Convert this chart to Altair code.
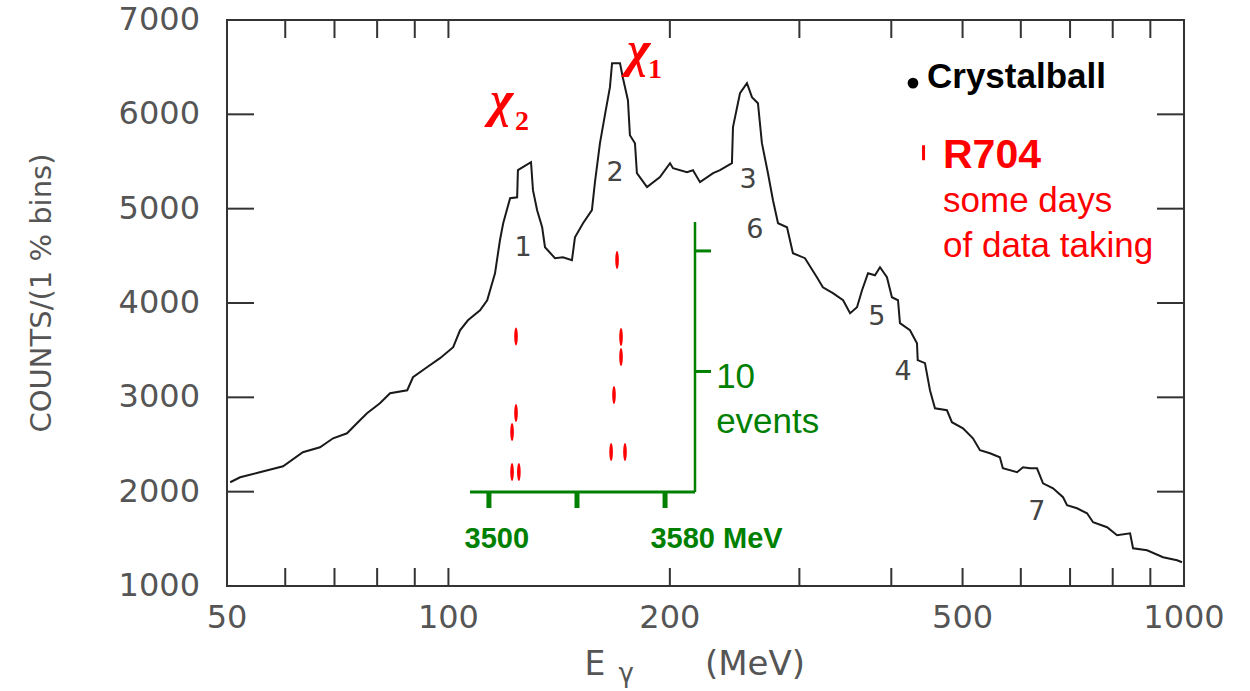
import altair as alt
import pandas as pd

# ---------------- main spectrum (Crystal Ball inclusive photon spectrum) ----------------
energy = [50.5, 52.1, 55.4, 59.6, 63.4, 66.9, 69.7, 72.8, 75.1, 77.5, 80.7, 83.3, 87.9, 89.5,
          93.5, 97.4, 101.5, 103.7, 106.3, 110.4, 112.9, 115.7, 117.5, 118.7, 121.3, 124.0,
          124.3, 129.5, 130.3, 132.0, 134.1, 135.3, 139.6, 143.1, 147.2, 148.6, 152.4, 156.7,
          158.2, 160.7, 163.2, 165.8, 166.9, 171.1, 172.7, 175.4, 176.5, 179.3, 180.4, 186.2,
          193.9, 200.1, 202.0, 211.0, 215.0, 219.8, 229.0, 234.0, 242.9, 243.7, 249.1, 254.6,
          258.6, 263.5, 266.8, 271.9, 276.2, 280.6, 288.6, 294.0, 305.3, 316.9, 322.9, 333.2,
          344.0, 351.6, 359.3, 365.0, 371.9, 380.1, 386.1, 394.6, 400.8, 408.5, 411.0, 424.1,
          433.5, 434.5, 444.5, 451.5, 458.6, 476.1, 483.6, 500.6, 516.5, 528.0, 544.8, 561.9,
          567.2, 593.0, 604.2, 617.5, 631.2, 643.2, 663.7, 684.8, 693.4, 715.4, 738.2, 752.3,
          786.0, 811.0, 844.7, 852.6, 890.8, 936.5, 978.6, 993.9]
counts = [2100, 2153, 2206, 2269, 2418, 2471, 2566, 2619, 2725, 2831, 2937, 3043, 3075, 3213,
          3319, 3415, 3531, 3711, 3817, 3923, 4029, 4315, 4665, 4845, 5111, 5121,
          5408, 5493, 5196, 4984, 4803, 4591, 4475, 4485, 4454, 4697, 4845, 4984,
          5281, 5694, 5991, 6288, 6542, 6542, 6383, 6150, 5779, 5694, 5376, 5228,
          5334, 5482, 5429, 5387, 5408, 5281, 5376, 5408, 5482, 5864, 6224, 6330,
          6182, 6118, 5694, 5376, 5090, 4845, 4803, 4527, 4475, 4273, 4167, 4104,
          4029, 3892, 3955, 4135, 4315, 4294, 4379, 4273, 4061, 4029, 3786, 3712,
          3574, 3394, 3362, 3076, 2884, 2863, 2736, 2672, 2566, 2439, 2407, 2365,
          2248, 2206, 2259, 2248, 2248, 2089, 2036, 1941, 1856, 1824, 1771, 1676,
          1623, 1538, 1559, 1400, 1379, 1305, 1273, 1252]

x_major = [50, 100, 200, 500, 1000]
x_minor = [60, 70, 80, 90, 300, 400, 600, 700, 800, 900]
y_ticks = [1000, 2000, 3000, 4000, 5000, 6000, 7000]
y_title = "COUNTS/(1 % bins)"

# numbered lines
peak_labels = ["1", "2", "3", "4", "5", "6", "7"]
peak_E = [126.3, 168.5, 255.4, 414.9, 382.4, 261.0, 631.0]
peak_C = [4581, 5375, 5302, 3266, 3849, 4772, 1781]

# chi_c labels
chi_text = ["χ", "χ"]
chi_E = [113.9, 174.9]
chi_C = [5981, 6511]
chi_sub = ["2", "1"]
chi_sub_E = [123.2, 186.8]
chi_sub_C = [5832, 6384]

# legend
legend_dot_E = [428.1]
legend_dot_C = [6331]
legend_bar_E = [442.5]
legend_bar_C = [5593]
legend_black = ["Crystalball"]
legend_black_E = [447.3]
legend_black_C = [6278]
legend_red_bold = ["R704"]
legend_red_bold_E = [470.3]
legend_red_bold_C = [5429]
legend_red = ["some days", "of data taking"]
legend_red_E = [470.3, 470.3]
legend_red_C = [4962, 4485]

# x-axis title pieces
xtitle_text = ["E", "γ", "(MeV)"]
xtitle_E = [158.2, 174.5, 261.0]

# ---------------- inset: R704 events ----------------
inset_axis_mev = [3491.4, 3593.6]
inset_axis_top = 22.4
inset_ticks_mev = [3500, 3540, 3580]
inset_ticks_events = [10, 20]
event_mev = [3512.3, 3512.3, 3510.5, 3510.5, 3513.6, 3558.2, 3560.0, 3560.0, 3556.8, 3555.5, 3561.8]
event_pos = [12.9, 6.56, 4.98, 1.66, 1.66, 19.25, 12.86, 11.2, 8.05, 3.32, 3.32]
inset_bold_labels = ["3500", "3580 MeV"]
inset_bold_mev = [3503.6, 3603.4]
inset_bold_pos = [-4.65, -4.65]
inset_labels = ["10", "events"]
inset_labels_mev = [3603.2, 3603.2]
inset_labels_pos = [8.63, 4.9]

GREEN = "#008000"
RED = "#ff0000"
GREY = "#555555"

xs = alt.Scale(type="log", domain=[50, 1000], nice=False)
ys = alt.Scale(domain=[1000, 7000], nice=False, zero=False)

spec_df = pd.DataFrame({"E": energy, "C": counts})
line = alt.Chart(spec_df).mark_line(color="#1a1a1a", strokeWidth=2).encode(
    x=alt.X("E:Q", scale=xs, axis=None),
    y=alt.Y("C:Q", scale=ys, axis=None),
)

xt_df = pd.DataFrame({"v": x_major + x_minor})
yt_df = pd.DataFrame({"v": y_ticks})
tick_style = dict(color="#333333", strokeWidth=2)
xt_bottom = alt.Chart(xt_df).mark_rule(**tick_style).encode(
    x=alt.X("v:Q", scale=xs, axis=None), y=alt.value(566), y2=alt.value(548))
xt_top = alt.Chart(xt_df).mark_rule(**tick_style).encode(
    x=alt.X("v:Q", scale=xs, axis=None), y=alt.value(0), y2=alt.value(18))
yt_left = alt.Chart(yt_df).mark_rule(**tick_style).encode(
    y=alt.Y("v:Q", scale=ys, axis=None), x=alt.value(0), x2=alt.value(27))
yt_right = alt.Chart(yt_df).mark_rule(**tick_style).encode(
    y=alt.Y("v:Q", scale=ys, axis=None), x=alt.value(957), x2=alt.value(930))

# tick labels (as text so that ticks can point inward like the original)
xlab = alt.Chart(pd.DataFrame({"v": x_major, "t": [str(v) for v in x_major]})).mark_text(
    font="DejaVu Sans", fontSize=32, color=GREY, align="center", baseline="middle").encode(
    x=alt.X("v:Q", scale=xs, axis=None), y=alt.value(598), text="t:N")
ylab = alt.Chart(pd.DataFrame({"v": y_ticks, "t": [str(v) for v in y_ticks]})).mark_text(
    font="DejaVu Sans", fontSize=32, color=GREY, align="right", baseline="middle").encode(
    y=alt.Y("v:Q", scale=ys, axis=None), x=alt.value(-27), text="t:N")
ytitle = alt.Chart(pd.DataFrame({"t": [y_title]})).mark_text(
    font="DejaVu Sans", fontSize=29, color=GREY, align="center", baseline="middle",
    angle=270).encode(x=alt.value(-185), y=alt.value(273), text="t:N")


def text_layer(texts, xe, ye, **style):
    df = pd.DataFrame({"t": texts, "E": xe, "C": ye})
    return alt.Chart(df).mark_text(**style).encode(
        x=alt.X("E:Q", scale=xs, axis=None),
        y=alt.Y("C:Q", scale=ys, axis=None),
        text="t:N")


peaks = text_layer(peak_labels, peak_E, peak_C, font="DejaVu Sans", fontSize=27,
                   color="#444444", align="center", baseline="middle")
chis = text_layer(chi_text, chi_E, chi_C, font="Liberation Serif", fontSize=50,
                  fontWeight="bold", fontStyle="italic", color=RED, align="left",
                  baseline="alphabetic")
chi_subs = text_layer(chi_sub, chi_sub_E, chi_sub_C, font="Liberation Serif", fontSize=28,
                      fontWeight="bold", color=RED, align="left", baseline="alphabetic")

dot = alt.Chart(pd.DataFrame({"E": legend_dot_E, "C": legend_dot_C})).mark_point(
    shape="circle", filled=True, color="black", size=115, opacity=1).encode(
    x=alt.X("E:Q", scale=xs, axis=None), y=alt.Y("C:Q", scale=ys, axis=None))
bar = alt.Chart(pd.DataFrame({"E": legend_bar_E, "C": legend_bar_C})).mark_point(
    shape="M-0.2,-1L0.2,-1L0.2,1L-0.2,1Z", filled=True, color=RED, size=225, opacity=1).encode(
    x=alt.X("E:Q", scale=xs, axis=None), y=alt.Y("C:Q", scale=ys, axis=None))
leg_black = text_layer(legend_black, legend_black_E, legend_black_C, font="Liberation Sans",
                       fontSize=35, fontWeight="bold", color="black", align="left",
                       baseline="alphabetic")
leg_red_bold = text_layer(legend_red_bold, legend_red_bold_E, legend_red_bold_C,
                          font="Liberation Sans", fontSize=41, fontWeight="bold", color=RED,
                          align="left", baseline="alphabetic")
leg_red = text_layer(legend_red, legend_red_E, legend_red_C, font="Liberation Sans",
                     fontSize=35, color=RED, align="left", baseline="alphabetic")

xt_df2 = pd.DataFrame({"t": xtitle_text, "E": xtitle_E})
xtitle_E_layer = alt.Chart(xt_df2.iloc[[0]]).mark_text(
    font="DejaVu Sans", fontSize=33, color=GREY, align="center", baseline="middle").encode(
    x=alt.X("E:Q", scale=xs, axis=None), y=alt.value(644.5), text="t:N")
xtitle_g_layer = alt.Chart(xt_df2.iloc[[1]]).mark_text(
    font="DejaVu Sans", fontSize=26, color=GREY, align="center", baseline="middle").encode(
    x=alt.X("E:Q", scale=xs, axis=None), y=alt.value(654), text="t:N")
xtitle_m_layer = alt.Chart(xt_df2.iloc[[2]]).mark_text(
    font="DejaVu Sans", fontSize=34, color=GREY, align="center", baseline="middle").encode(
    x=alt.X("E:Q", scale=xs, axis=None), y=alt.value(645), text="t:N")

main = alt.layer(line, xt_bottom, xt_top, yt_left, yt_right, xlab, ylab, ytitle,
                 peaks, chis, chi_subs, dot, bar, leg_black, leg_red_bold, leg_red,
                 xtitle_E_layer, xtitle_g_layer, xtitle_m_layer)

# ---------------- inset ----------------
ix = alt.Scale(domain=inset_axis_mev, range=[243, 468], nice=False, zero=False)
iy = alt.Scale(domain=[0, inset_axis_top], range=[472, 202], nice=False, zero=False)

h_axis = alt.Chart(pd.DataFrame({"a": [inset_axis_mev[0]], "b": [inset_axis_mev[1]], "y": [0]})).mark_rule(
    color=GREEN, strokeWidth=3).encode(
    x=alt.X("a:Q", scale=ix, axis=None), x2="b:Q", y=alt.Y("y:Q", scale=iy, axis=None))
v_axis = alt.Chart(pd.DataFrame({"x": [inset_axis_mev[1]], "a": [0], "b": [inset_axis_top]})).mark_rule(
    color=GREEN, strokeWidth=2.5).encode(
    x=alt.X("x:Q", scale=ix, axis=None), y=alt.Y("a:Q", scale=iy, axis=None), y2="b:Q")
ix_ticks = alt.Chart(pd.DataFrame({"m": inset_ticks_mev, "y": [0] * len(inset_ticks_mev)})).mark_rule(
    color=GREEN, strokeWidth=5).encode(
    x=alt.X("m:Q", scale=ix, axis=None), y=alt.Y("y:Q", scale=iy, axis=None), y2=alt.value(488))
iy_ticks = alt.Chart(pd.DataFrame({"e": inset_ticks_events,
                                   "x": [inset_axis_mev[1]] * len(inset_ticks_events)})).mark_rule(
    color=GREEN, strokeWidth=3).encode(
    y=alt.Y("e:Q", scale=iy, axis=None), x=alt.X("x:Q", scale=ix, axis=None), x2=alt.value(484))

ellipse = "M0,-1A0.2,1,0,1,1,0,1A0.2,1,0,1,1,0,-1Z"
events = alt.Chart(pd.DataFrame({"m": event_mev, "e": event_pos})).mark_point(
    shape=ellipse, filled=True, color=RED, size=324, opacity=1).encode(
    x=alt.X("m:Q", scale=ix, axis=None), y=alt.Y("e:Q", scale=iy, axis=None))

ilab_bold = alt.Chart(pd.DataFrame({"t": inset_bold_labels, "m": inset_bold_mev, "e": inset_bold_pos})).mark_text(
    font="Liberation Sans", fontSize=29, fontWeight="bold", color=GREEN, align="center",
    baseline="alphabetic").encode(
    x=alt.X("m:Q", scale=ix, axis=None), y=alt.Y("e:Q", scale=iy, axis=None), text="t:N")
ilab = alt.Chart(pd.DataFrame({"t": inset_labels, "m": inset_labels_mev, "e": inset_labels_pos})).mark_text(
    font="Liberation Sans", fontSize=35, color=GREEN, align="left", baseline="alphabetic").encode(
    x=alt.X("m:Q", scale=ix, axis=None), y=alt.Y("e:Q", scale=iy, axis=None), text="t:N")

inset = alt.layer(h_axis, v_axis, ix_ticks, iy_ticks, events, ilab_bold, ilab)

chart = alt.layer(main, inset).resolve_scale(x="independent", y="independent").properties(
    width=957, height=566,
    autosize=alt.AutoSizeParams(type="none"),
    padding={"left": 227, "top": 20, "right": 66, "bottom": 105},
    background="white",
).configure_view(stroke="#333333", strokeWidth=2)

chart.save("out.html", embed_options={"renderer": "svg", "actions": False})
